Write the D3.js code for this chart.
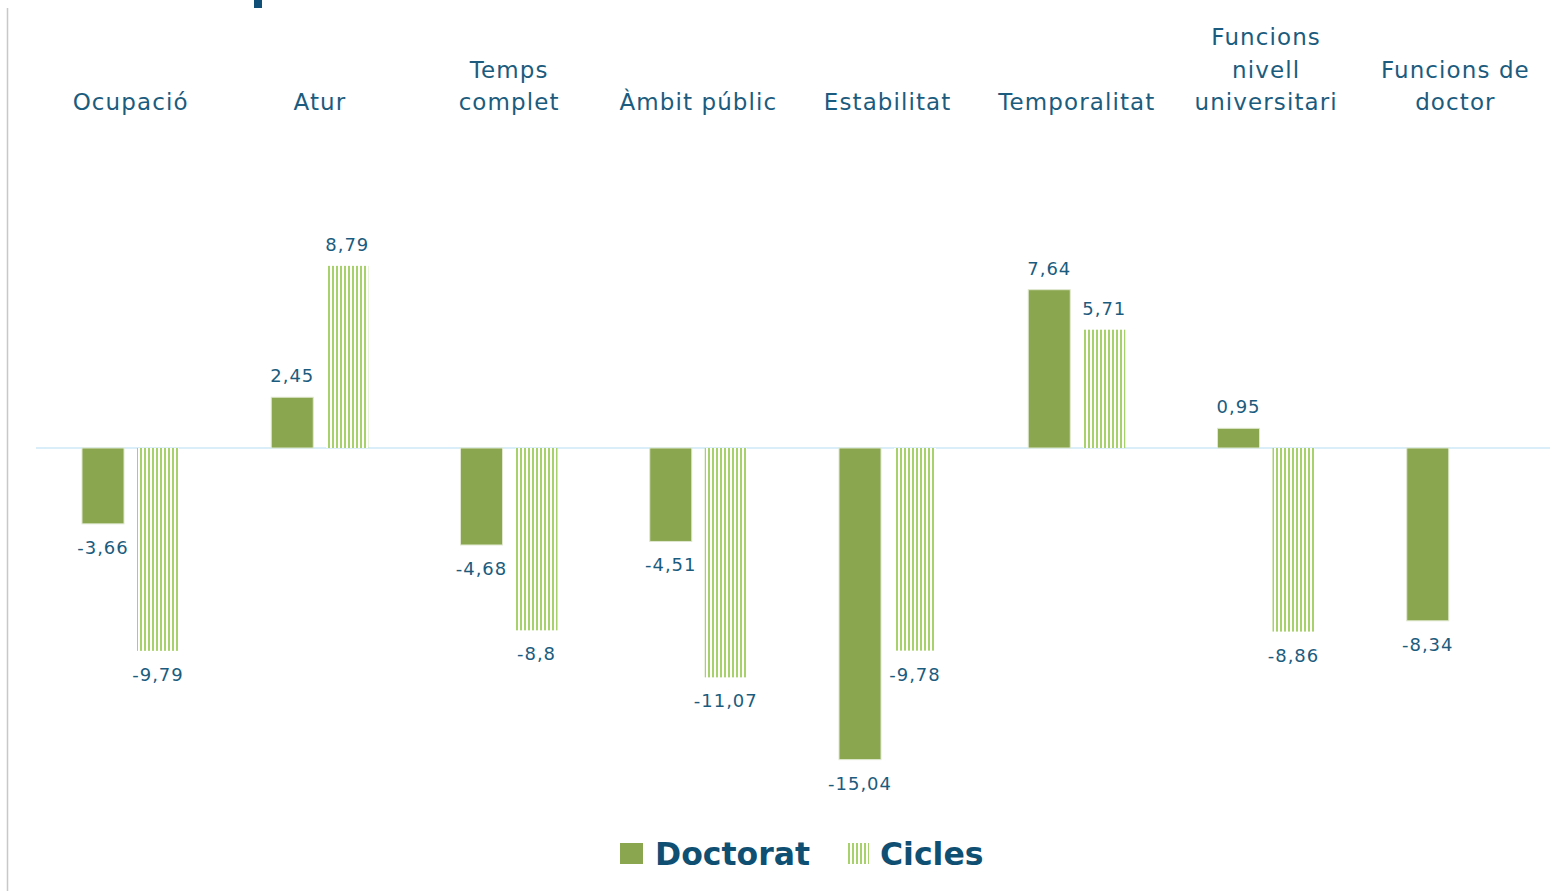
<!DOCTYPE html>
<html>
<head>
<meta charset="utf-8">
<script src="https://cdn.jsdelivr.net/npm/d3@7"></script>
<style>
  body { margin: 0; background: #fff; }
  text { font-family: "DejaVu Sans", sans-serif; }
</style>
</head>
<body>
<script>
// dades
const categories = [
  ["Ocupació"], ["Atur"], ["Temps", "complet"], ["Àmbit públic"],
  ["Estabilitat"], ["Temporalitat"], ["Funcions", "nivell", "universitari"], ["Funcions de", "doctor"]
];
const series = ["Doctorat", "Cicles"];
const doctorat = [-3.66, 2.45, -4.68, -4.51, -15.04, 7.64, 0.95, -8.34];
const cicles = [-9.79, 8.79, -8.8, -11.07, -9.78, 5.71, -8.86, null];

const W = 1566, H = 891;
const textColor = '#1b5c7e';
const colors = { Doctorat: '#8aa64e', Cicles: '#a9d16b' };

const svg = d3.select('body').append('svg')
  .attr('width', W)
  .attr('height', H);

// patró ratllat per Cicles
const pat = svg.append('defs').append('pattern')
  .attr('id', 'ratlles')
  .attr('patternUnits', 'userSpaceOnUse')
  .attr('width', 4)
  .attr('height', 10);
pat.append('rect')
  .attr('width', 4).attr('height', 10).attr('fill', '#fff');
pat.append('rect')
  .attr('width', 2).attr('height', 10).attr('fill', colors.Cicles);

const keys = categories.map((c) => c.join(' '));
const x0 = d3.scaleBand().domain(keys).range([36, 1550]);
const x1 = d3.scaleBand().domain(series).range([46, 143]).paddingInner(13 / 55);
const y = d3.scaleLinear().domain([-16, 10]).range([448 + 16 * 20.72, 448 - 10 * 20.72]);

// línia vertical esquerra
svg.append('line')
  .attr('x1', 7.5).attr('x2', 7.5)
  .attr('y1', 8).attr('y2', H)
  .attr('stroke', '#c8c8c8')
  .attr('stroke-width', 1.5);

// tros del títol (tallat)
svg.append('rect')
  .attr('x', 254).attr('y', 0)
  .attr('width', 8).attr('height', 8)
  .attr('fill', '#0f4f78');

// eix zero
svg.append('line')
  .attr('x1', 36).attr('x2', 1550)
  .attr('y1', y(0)).attr('y2', y(0))
  .attr('stroke', '#cde9f7')
  .attr('stroke-width', 1.5);

const data = [];
keys.forEach((k, i) => {
  data.push({ cat: k, serie: 'Doctorat', value: doctorat[i] });
  if (cicles[i] != null) data.push({ cat: k, serie: 'Cicles', value: cicles[i] });
});

const fmt = (v) => String(v).replace('.', ',');

//barres
svg.append('g')
  .selectAll('rect')
  .data(data)
  .join('rect')
  .attr('x', (d) => x0(d.cat) + x1(d.serie))
  .attr('y', (d) => y(Math.max(0, d.value)))
  .attr('width', x1.bandwidth())
  .attr('height', (d) => Math.abs(y(d.value) - y(0)))
  .attr('fill', (d) => d.serie === 'Doctorat' ? colors.Doctorat : 'url(#ratlles)')
  .attr('stroke', (d) => d.serie === 'Doctorat' ? '#dfe8cf' : 'none')
  .attr('stroke-width', 1);

//etiquetes de valor
svg.append('g')
  .selectAll('text')
  .data(data)
  .join('text')
  .attr('x', (d) => x0(d.cat) + x1(d.serie) + x1.bandwidth() / 2)
  .attr('y', (d) => d.value >= 0 ? y(d.value) - 15 : y(d.value) + 30)
  .attr('text-anchor', 'middle')
  .attr('fill', textColor)
  .attr('font-size', 18)
  .attr('letter-spacing', 1)
  .text((d) => fmt(d.value));

//categories
const cats = svg.append('g')
  .selectAll('text')
  .data(categories)
  .join('text')
  .attr('x', (d, i) => x0(keys[i]) + x0.bandwidth() / 2)
  .attr('text-anchor', 'middle')
  .attr('fill', textColor)
  .attr('font-size', 23)
  .attr('letter-spacing', 1.1);
cats.selectAll('tspan')
  .data((d) => d.map((t, j) => ({ t, j, n: d.length })))
  .join('tspan')
  .attr('x', function () { return this.parentNode.getAttribute('x'); })
  .attr('y', (d) => 110 - (d.n - 1 - d.j) * 32.5)
  .text((d) => d.t);

//llegenda
const leg = svg.append('g');
leg.append('rect')
  .attr('x', 620).attr('y', 843).attr('width', 23).attr('height', 21)
  .attr('fill', colors.Doctorat);
leg.append('text')
  .attr('x', 655).attr('y', 865)
  .attr('font-size', 31.5).attr('font-weight', 'bold')
  .attr('fill', '#0f4f72')
  .text('Doctorat');
leg.append('rect')
  .attr('x', 846).attr('y', 843).attr('width', 23).attr('height', 21)
  .attr('fill', 'url(#ratlles)');
leg.append('text')
  .attr('x', 880).attr('y', 865)
  .attr('font-size', 31.5).attr('font-weight', 'bold')
  .attr('fill', '#0f4f72')
  .text('Cicles');
</script>
</body>
</html>
